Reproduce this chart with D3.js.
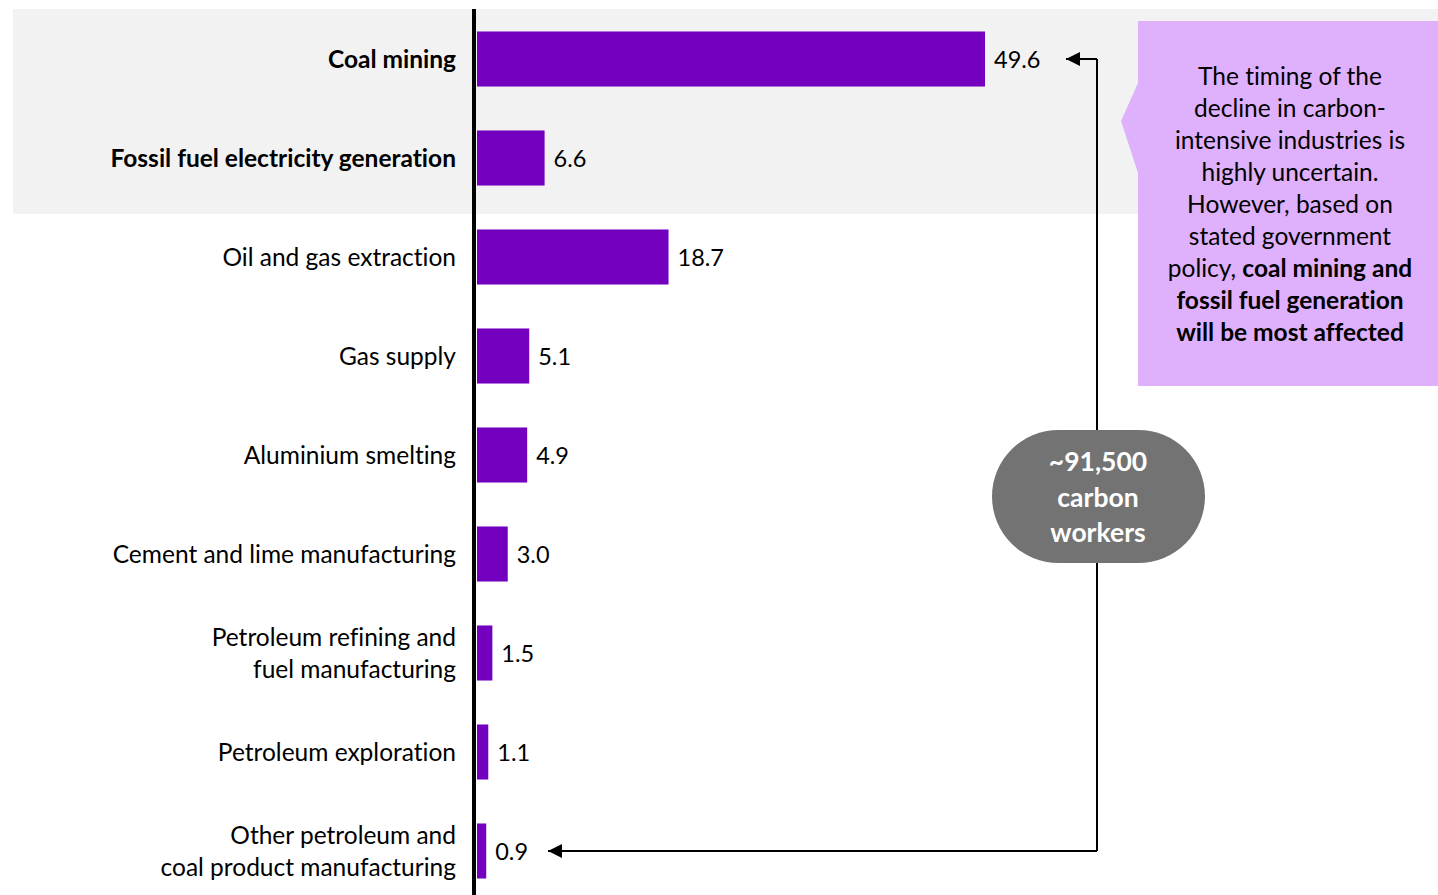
<!DOCTYPE html>
<html>
<head>
<meta charset="utf-8">
<script src="https://cdn.jsdelivr.net/npm/d3@7"></script>
<style>
html,body{margin:0;padding:0;background:#fff;}
svg{display:block;font-family:Lato, "Open Sans", sans-serif;font-variant-ligatures:none;}
</style>
</head>
<body>
<svg id="chart" width="1438" height="895"></svg>
<script>
const categories = [
  ["Coal mining"],
  ["Fossil fuel electricity generation"],
  ["Oil and gas extraction"],
  ["Gas supply"],
  ["Aluminium smelting"],
  ["Cement and lime manufacturing"],
  ["Petroleum refining and", "fuel manufacturing"],
  ["Petroleum exploration"],
  ["Other petroleum and", "coal product manufacturing"]
];
const values = [49.6, 6.6, 18.7, 5.1, 4.9, 3.0, 1.5, 1.1, 0.9];
const highlighted = [true, true, false, false, false, false, false, false, false];
const calloutLines = [
  [["The timing of the", false]],
  [["decline in carbon-", false]],
  [["intensive industries is", false]],
  [["highly uncertain.", false]],
  [["However, based on", false]],
  [["stated government", false]],
  [["policy, ", false], ["coal mining and", true]],
  [["fossil fuel generation", true]],
  [["will be most affected", true]]
];
const pillLines = ["~91,500", "carbon", "workers"];

const svg = d3.select("#chart");
const ids = categories.map((c, i) => i);
const x = d3.scaleLinear().domain([0, 49.6]).range([477, 985]);
const y = d3.scaleBand().domain(ids).range([9.5, 900.5]).paddingInner(0.444).paddingOuter(0.222);

// highlight band
svg.append("rect")
  .attr("x", 13).attr("y", 9)
  .attr("width", 1438 - 13)
  .attr("height", 214 - 9)
  .attr("fill", "#f2f2f2");

// bars
svg.append("g").selectAll("rect").data(values).join("rect")
  .attr("x", x(0))
  .attr("y", (d, i) => y(i))
  .attr("width", d => x(d) - x(0))
  .attr("height", y.bandwidth())
  .attr("fill", "#7400bf");

// value labels
svg.append("g").selectAll("text").data(values).join("text")
  .attr("x", d => x(d) + 9)
  .attr("y", (d, i) => y(i) + y.bandwidth() / 2 + 1)
  .attr("dy", "0.35em")
  .attr("font-size", 23.5)
  .attr("fill", "#000")
  .text(d => d.toFixed(1));

// category labels
const lab = svg.append("g").selectAll("text").data(categories).join("text")
  .attr("x", 456)
  .attr("y", (d, i) => y(i) + y.bandwidth() / 2)
  .attr("text-anchor", "end")
  .attr("font-size", 24.5)
  .attr("font-weight", (d, i) => highlighted[i] ? "bold" : "normal")
  .attr("fill", "#000");
lab.each(function(d) {
  const t = d3.select(this);
  const n = d.length;
  d.forEach((line, j) => {
    t.append("tspan")
      .attr("x", 456)
      .attr("dy", j === 0 ? ((0.35 - (n - 1) * 0.65) + "em") : "1.3em")
      .text(line);
  });
});

// axis line
svg.append("line")
  .attr("x1", 474).attr("x2", 474)
  .attr("y1", 9).attr("y2", 895)
  .attr("stroke", "#000").attr("stroke-width", 4);

// arrow
const defs = svg.append("defs");
defs.append("marker")
  .attr("id", "arrow")
  .attr("viewBox", "0 0 10 10")
  .attr("refX", 10).attr("refY", 5)
  .attr("markerWidth", 8).attr("markerHeight", 7)
  .attr("markerUnits", "strokeWidth")
  .attr("orient", "auto")
  .append("path").attr("d", "M0,0 L10,5 L0,10 Z").attr("fill", "#000");

const ax = 1097;
const yTop = y(0) + y.bandwidth() / 2;
const yBot = y(8) + y.bandwidth() / 2;
svg.append("path")
  .attr("d", `M${ax},${yTop} L${ax},${yBot}`)
  .attr("stroke", "#000").attr("stroke-width", 2).attr("fill", "none");
svg.append("path")
  .attr("d", `M${ax},${yTop} L1066,${yTop}`)
  .attr("stroke", "#000").attr("stroke-width", 2).attr("fill", "none")
  .attr("marker-end", "url(#arrow)");
svg.append("path")
  .attr("d", `M${ax},${yBot} L548,${yBot}`)
  .attr("stroke", "#000").attr("stroke-width", 2).attr("fill", "none")
  .attr("marker-end", "url(#arrow)");

// pill
svg.append("rect")
  .attr("x", 992).attr("y", 430)
  .attr("width", 213).attr("height", 133)
  .attr("rx", 66.5).attr("ry", 66.5)
  .attr("fill", "#737373");
svg.append("g").selectAll("text").data(pillLines).join("text")
  .attr("x", 1098)
  .attr("y", (d, i) => 462 + i * 35.5)
  .attr("dy", "0.35em")
  .attr("text-anchor", "middle")
  .attr("font-size", 26.5)
  .attr("font-weight", "bold")
  .attr("fill", "#fff")
  .text(d => d);

// callout
svg.append("path")
  .attr("d", "M1138,21 L1438,21 L1438,386 L1138,386 L1138,173 L1121,121 L1138,83 Z")
  .attr("fill", "#dfb1fc");
const ct = svg.append("g").selectAll("text").data(calloutLines).join("text")
  .attr("x", 1290)
  .attr("y", (d, i) => 76 + i * 32)
  .attr("dy", "0.35em")
  .attr("text-anchor", "middle")
  .attr("font-size", 24.5)
  .attr("fill", "#000");
ct.each(function(d) {
  const t = d3.select(this);
  d.forEach(([s, b]) => {
    t.append("tspan").attr("font-weight", b ? "bold" : "normal").text(s);
  });
});
</script>
</body>
</html>
